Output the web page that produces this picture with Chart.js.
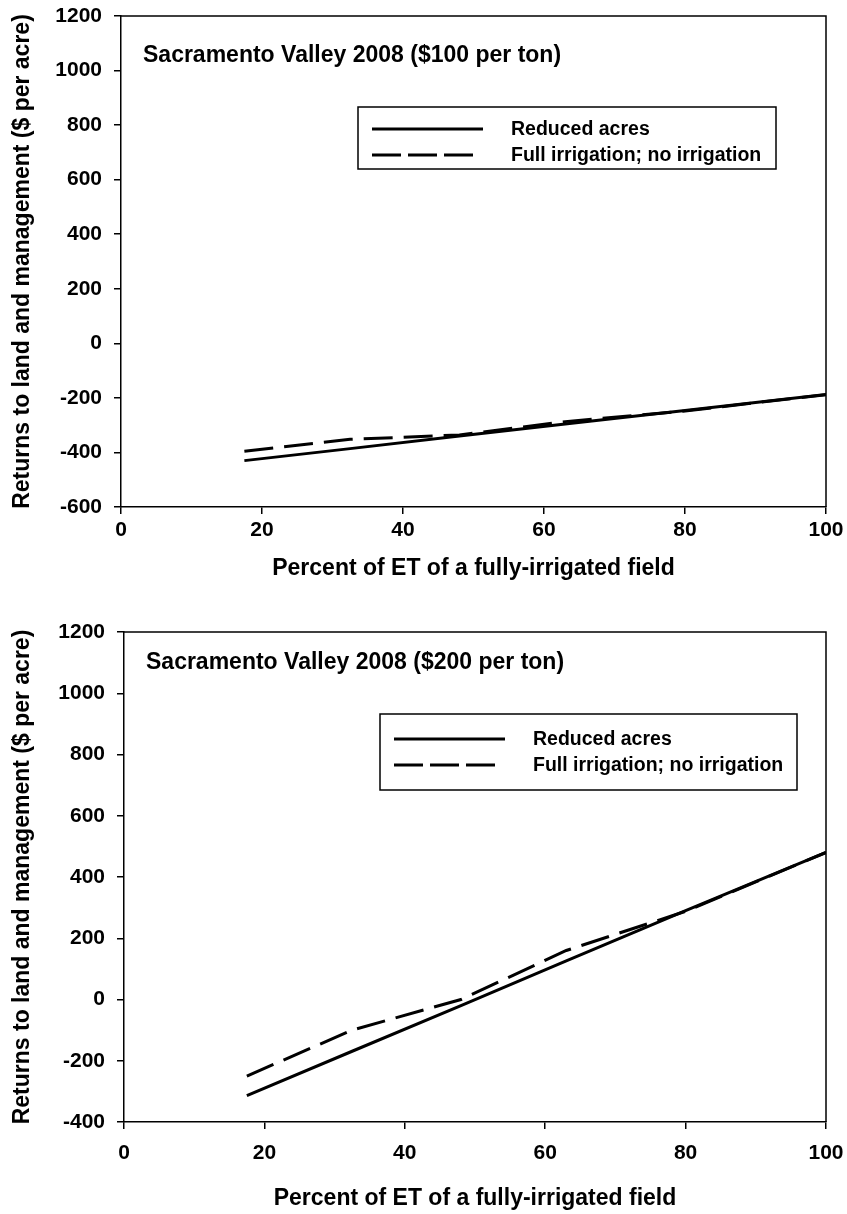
<!DOCTYPE html>
<html>
<head>
<meta charset="utf-8">
<script src="https://cdn.jsdelivr.net/npm/chart.js@4"></script>
<style>
  body { margin: 0; background: #fff; }
  .wrap { position: absolute; left: 0; width: 847px; height: 607px; }
</style>
</head>
<body>
<div class="wrap" style="top:0"><canvas id="chartTop" width="847" height="607"></canvas></div>
<div class="wrap" style="top:607px"><canvas id="chartBottom" width="847" height="607"></canvas></div>
<script>
// Percent of ET of a fully-irrigated field
const etPercent = [17.5, 32.5, 48, 63, 80, 100];

// $100 per ton
const reducedAcres100 = [-430, -386, -340, -296, -246, -188];
const fullNoIrr100 = [-396, -352, -336, -287, -248, -188];

// $200 per ton
const reducedAcres200 = [-314, -169, -20, 126, 290, 480];
const fullNoIrr200 = [-250, -100, 0, 160, 288, 480];

const seriesLabels = ['Reduced acres', 'Full irrigation; no irrigation'];
const xTicks = [0, 20, 40, 60, 80, 100];

const FONT = "'Liberation Sans', Arial, sans-serif";
Chart.defaults.font.family = FONT;
Chart.defaults.color = '#000';

function toPoints(xs, ys) {
    return xs.map((x, i) => ({ x: x, y: ys[i] }));
}

// let the layout padding alone decide where the plot area sits
function noAxisPadding(axis) {
    axis.paddingTop = 0;
    axis.paddingBottom = 0;
    axis.paddingLeft = 0;
    axis.paddingRight = 0;
}

// frame on top/right, chart title and boxed legend
const decorPlugin = {
    id: 'decor',
    afterDraw(chart, args, opts) {
        const ctx = chart.ctx;
        const a = chart.chartArea;
        ctx.save();
        ctx.strokeStyle = '#000';
        ctx.lineWidth = 1.5;
        ctx.beginPath();
        ctx.moveTo(a.left, a.top);
        ctx.lineTo(a.right, a.top);
        ctx.lineTo(a.right, a.bottom);
        ctx.stroke();

        ctx.font = 'bold 23px ' + FONT;
        ctx.fillStyle = '#000';
        ctx.textBaseline = 'middle';
        ctx.textAlign = 'left';
        ctx.fillText(opts.title, a.left + opts.titleDx, a.top + opts.titleDy);

        const lg = opts.legend;
        ctx.lineWidth = 1.5;
        ctx.strokeRect(lg.x, lg.y, lg.w, lg.h);
        chart.data.datasets.forEach((ds, i) => {
            const y = lg.y + lg.row0 + i * lg.rowGap;
            ctx.lineWidth = 3;
            ctx.setLineDash(ds.borderDash ? [29, 7] : []);
            ctx.beginPath();
            ctx.moveTo(lg.x + lg.lineX, y);
            ctx.lineTo(lg.x + lg.lineX + (ds.borderDash ? 101 : 111), y);
            ctx.stroke();
            ctx.setLineDash([]);
            ctx.font = 'bold 19.5px ' + FONT;
            ctx.fillText(ds.label, lg.x + lg.textX, y + 1);
        });
        ctx.restore();
    }
};

function makeChart(id, title, solid, dashed, yMin, layout, legend) {
    const ctx = document.getElementById(id).getContext('2d');
    return new Chart(ctx, {
        type: 'line',
        data: {
            datasets: [{
                label: seriesLabels[0],
                data: toPoints(etPercent, solid),
                borderColor: '#000',
                borderWidth: 3,
                pointRadius: 0,
                tension: 0
            }, {
                label: seriesLabels[1],
                data: toPoints(etPercent, dashed),
                borderColor: '#000',
                borderWidth: 3,
                borderDash: [29, 11],
                pointRadius: 0,
                tension: 0
            }]
        },
        options: {
            responsive: false,
            animation: false,
            layout: { padding: { top: layout.top, right: 21, left: 0, bottom: 0 } },
            plugins: {
                legend: { display: false },
                tooltip: { enabled: false },
                decor: { title: title, titleDx: 22, titleDy: layout.titleDy, legend: legend }
            },
            scales: {
                x: {
                    type: 'linear',
                    min: 0,
                    max: 100,
                    afterBuildTicks: axis => { axis.ticks = xTicks.map(v => ({ value: v })); },
                    afterFit: axis => { axis.height = layout.xHeight; noAxisPadding(axis); },
                    border: { display: true, color: '#000', width: 1.5 },
                    grid: { drawOnChartArea: false, drawTicks: true, tickLength: 7, color: '#000', lineWidth: 1.5 },
                    ticks: { font: { size: 21, weight: 'bold' }, padding: layout.xTickPad, maxRotation: 0 },
                    title: {
                        display: true,
                        text: 'Percent of ET of a fully-irrigated field',
                        font: { size: 23, weight: 'bold' },
                        padding: { top: 0, bottom: layout.xTitlePad }
                    }
                },
                y: {
                    type: 'linear',
                    min: yMin,
                    max: 1200,
                    ticks: {
                        stepSize: 200,
                        font: { size: 21, weight: 'bold' },
                        padding: 12,
                        callback: v => String(v)
                    },
                    afterFit: axis => { axis.width = layout.yWidth; noAxisPadding(axis); },
                    border: { display: true, color: '#000', width: 1.5 },
                    grid: { drawOnChartArea: false, drawTicks: true, tickLength: 7, color: '#000', lineWidth: 1.5 },
                    title: {
                        display: true,
                        text: 'Returns to land and management ($ per acre)',
                        font: { size: 23, weight: 'bold' },
                        padding: { top: 9, bottom: 0 }
                    }
                }
            }
        },
        plugins: [decorPlugin]
    });
}

makeChart('chartTop', 'Sacramento Valley 2008 ($100 per ton)',
    reducedAcres100, fullNoIrr100, -600,
    { top: 16, xHeight: 100, yWidth: 121, xTickPad: 4, xTitlePad: 25, titleDy: 40 },
    { x: 358, y: 107, w: 418, h: 62, row0: 22, rowGap: 26, lineX: 14, textX: 153 });

makeChart('chartBottom', 'Sacramento Valley 2008 ($200 per ton)',
    reducedAcres200, fullNoIrr200, -400,
    { top: 25, xHeight: 92, yWidth: 124, xTickPad: 12, xTitlePad: 2, titleDy: 31 },
    { x: 380, y: 107, w: 417, h: 76, row0: 25, rowGap: 26, lineX: 14, textX: 153 });
</script>
</body>
</html>
